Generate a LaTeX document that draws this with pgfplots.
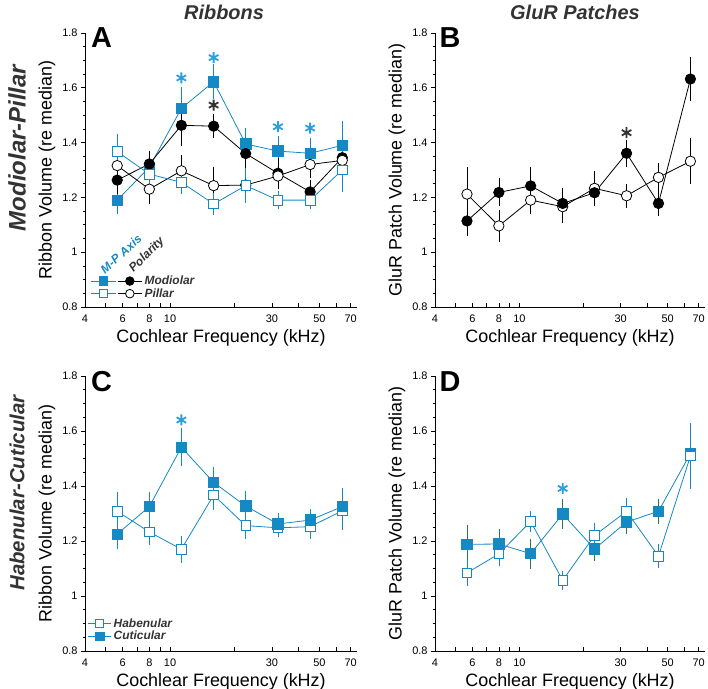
\documentclass[border=0pt]{standalone}
\usepackage{fontspec}
\setmainfont{Liberation Sans}
\usepackage{pgfplots}
\pgfplotsset{compat=1.18}
\definecolor{bl}{RGB}{20,137,196}
\definecolor{bla}{RGB}{45,160,220}
\definecolor{dg}{RGB}{51,51,51}
\definecolor{eg}{RGB}{40,120,80}
\pgfplotsset{
  every axis/.append style={
    scale only axis, axis x line=bottom, axis y line=left,
    axis line style={-, line width=0.8bp},
    xmode=log, xmin=4, xmax=75, ymin=0.8, ymax=1.8,
    xtick={4,5,6,7,8,9,10,20,30,40,50,60,70},
    xticklabels={4,,6,,8,,10,,30,,50,,70},
    minor xtick={},
    ytick={0.8,1,1.2,1.4,1.6,1.8},
    minor y tick num=3,
    tick align=outside,
    major tick length=4bp, minor tick length=2.5bp,
    tick style={line width=0.7bp, black},
    xtick style={yshift=4bp},
    tick label style={font=\fontsize{11}{13}\selectfont},
    yticklabel={\pgfmathprintnumber[assume math mode=true]{\tick}},
    label style={font=\fontsize{18}{21}\selectfont},
    xlabel={Cochlear Frequency (kHz)},
    clip=false,
    legend cell align=left,
    legend style={draw=none, fill=none, inner sep=0pt, row sep=-1.5bp,
      font=\bfseries\itshape\fontsize{12}{14}\selectfont, text=dg},
  },
}
\begin{document}
\begin{tikzpicture}
\useasboundingbox (0bp,0bp) rectangle (708bp,689bp);

% ---------------- Panel A ----------------
\begin{axis}[at={(85bp,382bp)}, anchor=south west, width=272bp, height=274bp,
  ylabel={Ribbon Volume (re median)},
  legend columns=2,
  legend image post style={xscale=1.45, /tikz/every mark/.append style={xscale=0.69}},
  legend style={at={(0.02,0.022)}, anchor=south west,
    /tikz/every even column/.append style={column sep=0pt}}]
\addplot[forget plot, bl, line width=0.8bp, mark=square*, mark size=5.2bp,
  mark options={fill=bl, draw=bl, solid},
  error bars/.cd, y dir=both, y explicit, error bar style={bl, line width=0.7bp},
  error mark options={bl, line width=0.7bp, mark size=2.5bp}] coordinates {
 (5.66,1.19) +- (0,0.04) (8,1.31) +- (0,0.04) (11.3,1.525) +- (0,0.07)
 (16,1.622) +- (0,0.055) (22.6,1.395) +- (0,0.05) (32,1.369) +- (0,0.045)
 (45.25,1.361) +- (0,0.045) (64,1.39) +- (0,0.08)};
\addplot[forget plot, black, line width=0.8bp, mark=*, mark size=5.2bp,
  mark options={fill=black, draw=black, solid},
  error bars/.cd, y dir=both, y explicit, error bar style={black, line width=0.7bp},
  error mark options={black, line width=0.7bp, mark size=2.5bp}] coordinates {
 (5.66,1.263) +- (0,0.04) (8,1.322) +- (0,0.04) (11.3,1.463) +- (0,0.065)
 (16,1.46) +- (0,0.035) (22.6,1.36) +- (0,0.04) (32,1.288) +- (0,0.045)
 (45.25,1.22) +- (0,0.035) (64,1.345) +- (0,0.04)};
\addplot[forget plot, black, line width=0.8bp, mark=*, mark size=5.2bp,
  mark options={fill=white, draw=black, solid},
  error bars/.cd, y dir=both, y explicit, error bar style={black, line width=0.7bp},
  error mark options={black, line width=0.7bp, mark size=2.5bp}] coordinates {
 (5.66,1.316) +- (0,0.04) (8,1.23) +- (0,0.045) (11.3,1.297) +- (0,0.05)
 (16,1.243) +- (0,0.06) (22.6,1.245) +- (0,0.055) (32,1.278) +- (0,0.04)
 (45.25,1.32) +- (0,0.04) (64,1.335) +- (0,0.05)};
\addplot[forget plot, bl, line width=0.8bp, mark=square*, mark size=4.8bp,
  mark options={fill=white, draw=bl, solid},
  error bars/.cd, y dir=both, y explicit, error bar style={bl, line width=0.7bp},
  error mark options={bl, line width=0.7bp, mark size=2.5bp}] coordinates {
 (5.66,1.367) +- (0,0.055) (8,1.285) +- (0,0.03) (11.3,1.255) +- (0,0.035)
 (16,1.176) +- (0,0.03) (22.6,1.243) +- (0,0.055) (32,1.19) +- (0,0.025)
 (45.25,1.19) +- (0,0.025) (64,1.30) +- (0,0.07)};
\addplot[forget plot, only marks, mark=asterisk, mark size=5.5bp, bla, mark options={line width=1.8bp}]
  coordinates {(11.3,1.636) (16,1.71) (32,1.458) (45.25,1.453)};
\addplot[forget plot, only marks, mark=asterisk, mark size=5.5bp, dg, mark options={line width=1.8bp}]
  coordinates {(16,1.537)};
\addlegendimage{bl, line width=0.8bp, mark=square*, mark size=4.3bp, mark options={fill=bl, solid}}
\addlegendentry[inner sep=0pt]{}
\addlegendimage{black, line width=0.8bp, mark=*, mark size=4.3bp, mark options={fill=black, solid}}
\addlegendentry{Modiolar}
\addlegendimage{bl, line width=0.8bp, mark=square*, mark size=4bp, mark options={fill=white, solid}}
\addlegendentry[inner sep=0pt]{}
\addlegendimage{black, line width=0.8bp, mark=*, mark size=4.3bp, mark options={fill=white, solid}}
\addlegendentry{Pillar}
\end{axis}

% ---------------- Panel B ----------------
\begin{axis}[at={(435bp,382bp)}, anchor=south west, width=270bp, height=274bp,
  ylabel={GluR Patch Volume (re median)}]
\addplot[forget plot, black, line width=0.8bp, mark=*, mark size=5.2bp,
  mark options={fill=white, draw=black, solid},
  error bars/.cd, y dir=both, y explicit, error bar style={black, line width=0.7bp},
  error mark options={black, line width=0.7bp, mark size=2.5bp}] coordinates {
 (5.66,1.212) +- (0,0.09) (8,1.096) +- (0,0.05) (11.3,1.19) +- (0,0.04)
 (16,1.166) +- (0,0.05) (22.6,1.233) +- (0,0.056) (32,1.206) +- (0,0.035)
 (45.25,1.273) +- (0,0.045) (64,1.332) +- (0,0.075)};
\addplot[forget plot, black, line width=0.8bp, mark=*, mark size=5.2bp,
  mark options={fill=black, draw=black, solid},
  error bars/.cd, y dir=both, y explicit, error bar style={black, line width=0.7bp},
  error mark options={black, line width=0.7bp, mark size=2.5bp}] coordinates {
 (5.66,1.114) +- (0,0.045) (8,1.218) +- (0,0.042) (11.3,1.242) +- (0,0.06)
 (16,1.178) +- (0,0.048) (22.6,1.217) +- (0,0.035) (32,1.361) +- (0,0.04)
 (45.25,1.178) +- (0,0.035) (64,1.632) +- (0,0.07)};
\addplot[forget plot, only marks, mark=asterisk, mark size=5.5bp, dg, mark options={line width=1.8bp}]
  coordinates {(32,1.436)};
\end{axis}

% ---------------- Panel C ----------------
\begin{axis}[at={(85bp,38bp)}, anchor=south west, width=272bp, height=275bp,
  ylabel={Ribbon Volume (re median)},
  legend image post style={xscale=1.35, /tikz/every mark/.append style={xscale=0.74}},
  legend style={at={(0.01,0.027)}, anchor=south west}]
\addplot[forget plot, bl, line width=0.8bp, mark=square*, mark size=4.8bp,
  mark options={fill=white, draw=bl, solid},
  error bars/.cd, y dir=both, y explicit, error bar style={bl, line width=0.7bp},
  error mark options={bl, line width=0.7bp, mark size=2.5bp}] coordinates {
 (5.66,1.308) +- (0,0.06) (8,1.233) +- (0,0.04) (11.3,1.17) +- (0,0.04)
 (16,1.367) +- (0,0.045) (22.6,1.256) +- (0,0.04) (32,1.248) +- (0,0.025)
 (45.25,1.252) +- (0,0.035) (64,1.31) +- (0,0.06)};
\addplot[forget plot, bl, line width=0.8bp, mark=square*, mark size=5.2bp,
  mark options={fill=bl, draw=bl, solid},
  error bars/.cd, y dir=both, y explicit, error bar style={bl, line width=0.7bp},
  error mark options={bl, line width=0.7bp, mark size=2.5bp}] coordinates {
 (5.66,1.225) +- (0,0.045) (8,1.325) +- (0,0.045) (11.3,1.541) +- (0,0.06)
 (16,1.413) +- (0,0.047) (22.6,1.327) +- (0,0.045) (32,1.262) +- (0,0.03)
 (45.25,1.276) +- (0,0.03) (64,1.325) +- (0,0.06)};
\addplot[forget plot, only marks, mark=asterisk, mark size=5.5bp, bla, mark options={line width=1.8bp}]
  coordinates {(11.3,1.64)};
\addlegendimage{bl, line width=0.8bp, mark=square*, mark size=4bp, mark options={fill=white, solid}}
\addlegendentry{Habenular}
\addlegendimage{bl, line width=0.8bp, mark=square*, mark size=4.3bp, mark options={fill=bl, solid}}
\addlegendentry{Cuticular}
\end{axis}

% ---------------- Panel D ----------------
\begin{axis}[at={(435bp,38bp)}, anchor=south west, width=270bp, height=275bp,
  ylabel={GluR Patch Volume (re median)}]
\addplot[forget plot, bl, line width=0.8bp, mark=square*, mark size=5.2bp,
  mark options={fill=bl, draw=bl, solid},
  error bars/.cd, y dir=both, y explicit, error bar style={eg, line width=0.7bp},
  error mark options={eg, line width=0.7bp, mark size=2.5bp}] coordinates {
 (5.66,1.188) +- (0,0.06) (8,1.189) +- (0,0.045) (11.3,1.154) +- (0,0.045)
 (16,1.298) +- (0,0.045) (22.6,1.171) +- (0,0.035) (32,1.269) +- (0,0.035)
 (45.25,1.308) +- (0,0.037) (64,1.518) +- (0,0.09)};
\addplot[forget plot, bl, line width=0.8bp, mark=square*, mark size=4.8bp,
  mark options={fill=white, draw=bl, solid},
  error bars/.cd, y dir=both, y explicit, error bar style={bl, line width=0.7bp},
  error mark options={bl, line width=0.7bp, mark size=2.5bp}] coordinates {
 (5.66,1.084) +- (0,0.04) (8,1.153) +- (0,0.035) (11.3,1.271) +- (0,0.03)
 (16,1.057) +- (0,0.025) (22.6,1.22) +- (0,0.035) (32,1.308) +- (0,0.04)
 (45.25,1.145) +- (0,0.035) (64,1.509) +- (0,0.11)};
\addplot[forget plot, only marks, mark=asterisk, mark size=5.5bp, bla, mark options={line width=1.8bp}]
  coordinates {(16,1.391)};
\end{axis}

% ---------------- Texts ----------------
\node[font=\bfseries\itshape\fontsize{20}{24}\selectfont, text=dg] at (224bp,677bp) {Ribbons};
\node[font=\bfseries\itshape\fontsize{20}{24}\selectfont, text=dg] at (575bp,677bp) {GluR Patches};
\node[rotate=90, font=\bfseries\itshape\fontsize{24}{28}\selectfont, text=dg] at (17bp,541bp) {Modiolar-Pillar};
\node[rotate=90, font=\bfseries\itshape\fontsize{20.5}{24}\selectfont, text=dg] at (17bp,196bp) {Habenular-Cuticular};
\node[inner sep=0pt, font=\bfseries\fontsize{29}{32}\selectfont] at (101.5bp,651.5bp) {A};
\node[inner sep=0pt, font=\bfseries\fontsize{29}{32}\selectfont] at (450bp,651.5bp) {B};
\node[inner sep=0pt, font=\bfseries\fontsize{29}{32}\selectfont] at (101.5bp,307bp) {C};
\node[inner sep=0pt, font=\bfseries\fontsize{29}{32}\selectfont] at (450bp,307bp) {D};
\node[rotate=42, text=bl, font=\bfseries\itshape\fontsize{12}{14}\selectfont] at (121bp,435bp) {M-P Axis};
\node[rotate=45, text=dg, font=\bfseries\itshape\fontsize{12}{14}\selectfont] at (147bp,434bp) {Polarity};
\end{tikzpicture}
\end{document}
